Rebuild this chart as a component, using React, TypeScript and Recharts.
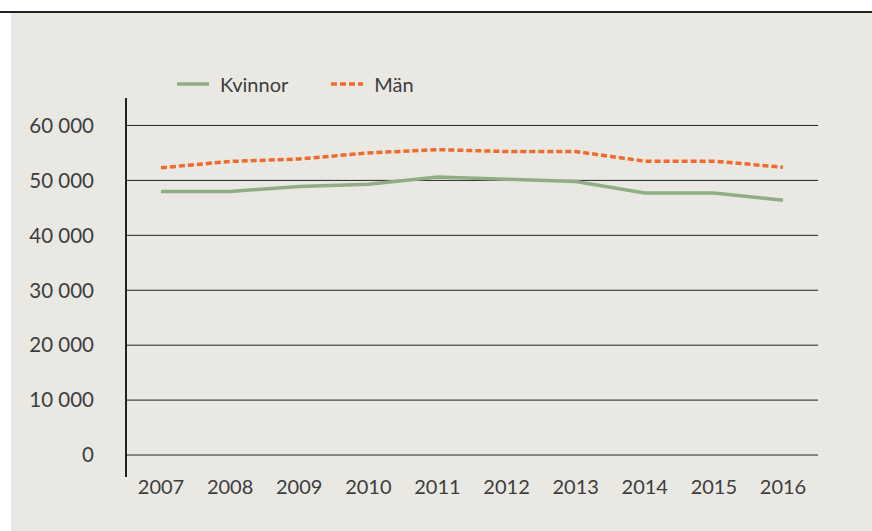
import { LineChart, Line, XAxis, YAxis, CartesianGrid } from 'recharts'

const years = ['2007', '2008', '2009', '2010', '2011', '2012', '2013', '2014', '2015', '2016']
const kvinnor = [48000, 48000, 48900, 49300, 50600, 50200, 49800, 47700, 47700, 46400]
const man = [52300, 53450, 53900, 55000, 55600, 55250, 55250, 53500, 53500, 52400]
const yTicks = [0, 10000, 20000, 30000, 40000, 50000, 60000]

const series = [
  { key: 'Kvinnor', color: '#8fae84', dash: undefined as string | undefined },
  { key: 'Män', color: '#f06a2a', dash: '6 3' },
]

const data = years.map((year, i) => ({ year, Kvinnor: kvinnor[i], Män: man[i] }))

const fmt = (v: number) => (v === 0 ? '0' : `${Math.round(v / 1000)} 000`)

const textColor = '#3d3d3d'
const font = 'Lato'

const App = () => {
  return (
    <div style={{ position: 'absolute', left: 0, top: 0, width: 872, height: 531, background: '#fff' }}>
      <div style={{ position: 'absolute', left: 11, top: 13, width: 861, height: 518, background: '#eae8e3' }} />
      <div style={{ position: 'absolute', left: 0, top: 11, width: 872, height: 2, background: '#222' }} />
      <div style={{ position: 'absolute', left: 125, top: 98, width: 2, height: 379, background: '#222' }} />
      <div
        style={{
          position: 'absolute', left: 177, top: 72, display: 'flex',
          fontFamily: font, fontSize: 20, color: textColor,
        }}
      >
        {series.map((s, i) => (
          <div key={s.key} style={{ display: 'flex', alignItems: 'center', marginRight: i === 0 ? 43 : 0 }}>
            <svg width={32} height={6} style={{ marginRight: 11 }}>
              <line x1={0} y1={3} x2={32} y2={3} stroke={s.color} strokeWidth={3.5} strokeDasharray={s.dash} />
            </svg>
            <span>{s.key}</span>
          </div>
        ))}
      </div>
      <div style={{ position: 'absolute', left: 0, top: 0 }}>
        <LineChart
          width={872}
          height={531}
          data={data}
          margin={{ top: 98, right: 54, bottom: 24, left: 26 }}
        >
          <CartesianGrid vertical={false} stroke='#222' strokeWidth={1} horizontalValues={yTicks} />
          <XAxis
            dataKey='year'
            axisLine={false}
            tickLine={false}
            height={30}
            padding={{ left: 35, right: 35 }}
            interval={0}
            tick={{ fill: textColor, fontSize: 20, fontFamily: font, dy: -3 }}
            tickMargin={0}
          />
          <YAxis
            width={100}
            type='number'
            domain={[-4000, 65000]}
            allowDataOverflow
            ticks={yTicks}
            interval={0}
            axisLine={false}
            tickLine={false}
            tickMargin={26}
            tickFormatter={fmt}
            tick={{ fill: textColor, fontSize: 20.5, fontFamily: font }}
          />
          {series.map((s) => (
            <Line
              key={s.key}
              type='linear'
              dataKey={s.key}
              stroke={s.color}
              strokeWidth={3.5}
              strokeDasharray={s.dash}
              dot={false}
              isAnimationActive={false}
            />
          ))}
        </LineChart>
      </div>
    </div>
  )
}

export default App
